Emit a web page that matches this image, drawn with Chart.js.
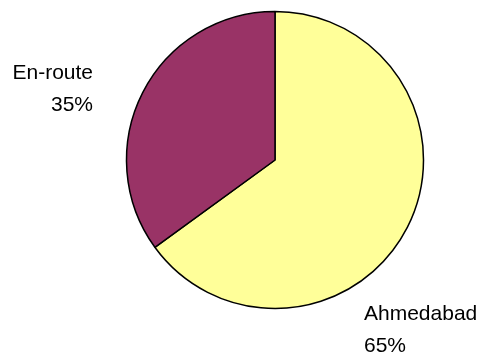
<!DOCTYPE html>
<html>
<head>
<meta charset="utf-8">
<script src="https://cdn.jsdelivr.net/npm/chart.js@4/dist/chart.umd.min.js"></script>
<style>
    html, body { margin: 0; padding: 0; background: #ffffff; }
    #wrap { width: 484px; height: 356px; }
</style>
</head>
<body>
<div id="wrap"><canvas id="pie-trajets"></canvas></div>
<script>
// parts du trajet
const categories = ["Ahmedabad", "En-route"];
const valeurs = [65, 35];
const couleurs = ["#FFFF99", "#993366"];

// where each label block sits: x anchor, first line baseline, text alignment
const ancres = [
    { x: 364, y: 320, align: "left" },
    { x: 93, y: 79, align: "right" }
];

const total = valeurs.reduce((a, b) => a + b, 0);

const pieLabels = {
    id: "pieLabels",
    afterDraw(chart) {
        const ctx = chart.ctx;
        ctx.save();
        ctx.fillStyle = "#000000";
        ctx.font = "21px 'Liberation Sans', Arial, sans-serif";
        ctx.textBaseline = "alphabetic";
        chart.data.labels.forEach((label, i) => {
            const a = ancres[i];
            const pct = Math.round(chart.data.datasets[0].data[i] / total * 100) + "%";
            ctx.textAlign = a.align;
            ctx.fillText(label, a.x, a.y);
            ctx.fillText(pct, a.x, a.y + 31.5);
        });
        ctx.restore();
    }
};

const ctx = document.getElementById("pie-trajets").getContext("2d");
new Chart(ctx, {
    type: "pie",
    data: {
        labels: categories,
        datasets: [{
            data: valeurs,
            backgroundColor: couleurs,
            borderColor: "#000000",
            borderWidth: 1.5
        }]
    },
    options: {
        responsive: true,
        maintainAspectRatio: false,
        animation: false,
        radius: 148.5,
        layout: {
            padding: { left: 125, right: 59, top: 9, bottom: 45 }
        },
        plugins: {
            legend: { display: false },
            tooltip: { enabled: false }
        }
    },
    plugins: [pieLabels]
});
</script>
</body>
</html>
